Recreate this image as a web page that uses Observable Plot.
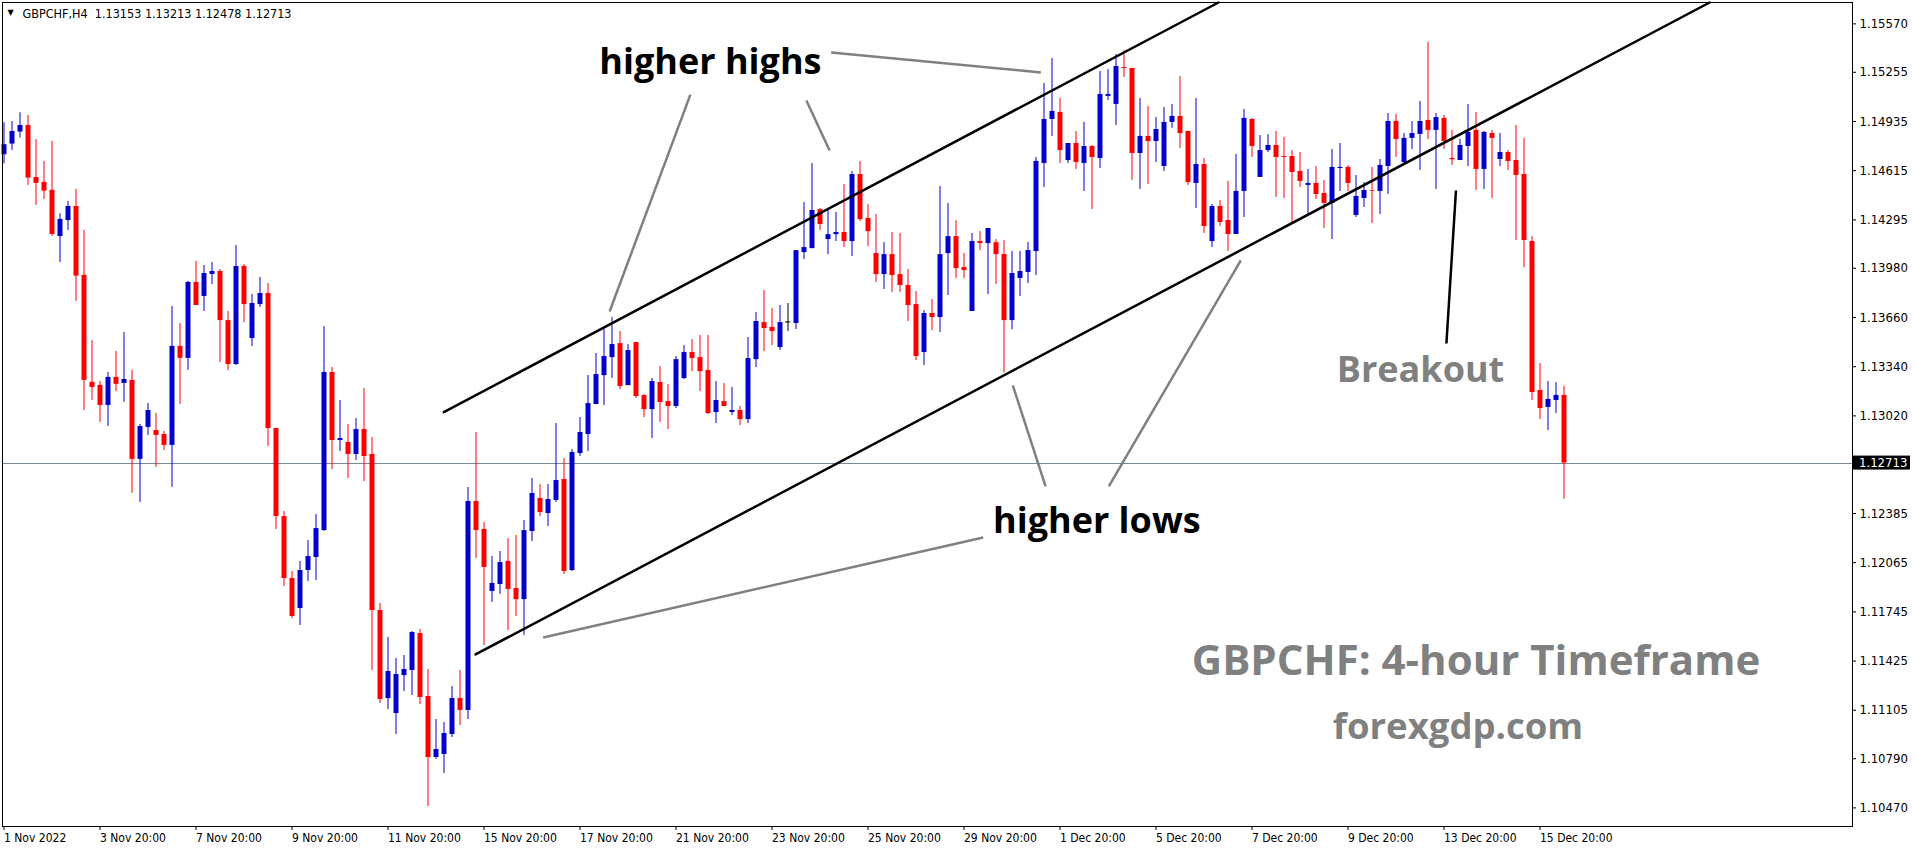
<!DOCTYPE html>
<html>
<head>
<meta charset="utf-8">
<script src="https://cdn.jsdelivr.net/npm/d3@7"></script>
<script src="https://cdn.jsdelivr.net/npm/@observablehq/plot@0.6"></script>
<style>
html,body{margin:0;padding:0;background:#fff;}
svg{display:block;}
</style>
</head>
<body>
<div id="chart"></div>
<script>
// ---------------- data ----------------
const symbol = "GBPCHF";
const timeframe = "H4";

const opens = [
1.14719,1.14788,1.14866,1.14909,1.14571,1.14539,1.14487,1.14187,1.14291,1.14382,
1.13934,1.13238,1.13218,1.13088,1.13270,1.13231,1.13251,1.12737,1.12945,1.12925,
1.12899,1.12828,1.13472,1.13394,1.13888,1.13797,1.13940,1.13959,1.13640,1.13354,
1.13992,1.13523,1.13744,1.13816,1.12938,1.12365,1.11962,1.11767,1.12014,1.12099,
1.12274,1.13302,1.12860,1.12847,1.12769,1.12931,1.12769,1.11754,1.11181,1.11084,
1.11331,1.11364,1.11604,1.11195,1.10798,1.10817,1.10947,1.11182,1.11104,1.12463,
1.12281,1.11878,1.11923,1.12073,1.11897,1.11825,1.12268,1.12483,1.12385,1.12470,
1.12606,1.12014,1.12775,1.12899,1.13094,1.13282,1.13399,1.13490,1.13217,1.13497,
1.13152,1.13061,1.13237,1.13113,1.13081,1.13263,1.13432,1.13399,1.13315,1.13042,
1.13113,1.13042,1.13055,1.12996,1.13386,1.13627,1.13595,1.13464,1.13631,1.13621,
1.14082,1.14108,1.14362,1.14167,1.14199,1.14213,1.14154,1.14590,1.14304,1.14076,
1.13939,1.14069,1.13939,1.13868,1.13744,1.13432,1.13686,1.13660,1.14076,1.14186,
1.13985,1.13699,1.14154,1.14141,1.14147,1.14070,1.13640,1.13914,1.13953,1.14089,
1.14662,1.14948,1.14994,1.14681,1.14792,1.14662,1.14772,1.14694,1.15098,1.15046,
1.15286,1.15280,1.14727,1.14838,1.14805,1.14642,1.14929,1.14968,1.14870,1.14532,
1.14655,1.14154,1.14382,1.14291,1.14200,1.14480,1.14948,1.14571,1.14746,1.14779,
1.14707,1.14707,1.14610,1.14519,1.14532,1.14467,1.14402,1.14629,1.14636,1.14324,
1.14434,1.14486,1.14480,1.14642,1.14935,1.14668,1.14825,1.14851,1.14942,1.14877,
1.14955,1.14694,1.14681,1.14772,1.14877,1.14623,1.14857,1.14688,1.14733,1.14681,
1.14590,1.14155,1.13185,1.13075,1.13120,1.13153
];
const highs = [
1.14927,1.14935,1.14992,1.14974,1.14818,1.14675,1.14805,1.14335,1.14415,1.14493,
1.14226,1.13511,1.13244,1.13303,1.13439,1.13563,1.13316,1.12964,1.13101,1.13036,
1.12919,1.13732,1.13621,1.13895,1.14025,1.13998,1.14018,1.13972,1.13699,1.14128,
1.14005,1.13810,1.13920,1.13881,1.12938,1.12398,1.12008,1.12073,1.12209,1.12378,
1.13601,1.13335,1.13120,1.12964,1.13003,1.13198,1.12879,1.11800,1.11578,1.11442,
1.11461,1.11617,1.11630,1.11370,1.11045,1.11025,1.11260,1.11364,1.12554,1.12912,
1.12326,1.12105,1.12138,1.12222,1.12242,1.12339,1.12613,1.12574,1.12574,1.12970,
1.12743,1.12801,1.13009,1.13283,1.13426,1.13582,1.13660,1.13569,1.13484,1.13497,
1.13159,1.13263,1.13341,1.13224,1.13406,1.13477,1.13517,1.13543,1.13543,1.13243,
1.13230,1.13204,1.13081,1.13530,1.13692,1.13835,1.13718,1.13738,1.13751,1.14095,
1.14408,1.14661,1.14369,1.14362,1.14343,1.14525,1.14609,1.14674,1.14395,1.14330,
1.14147,1.14213,1.14206,1.13972,1.13829,1.13705,1.13777,1.14512,1.14401,1.14291,
1.14076,1.14206,1.14219,1.14239,1.14167,1.14161,1.14089,1.14089,1.14148,1.14701,
1.15182,1.15345,1.15085,1.14792,1.14870,1.14929,1.14779,1.15260,1.15273,1.15371,
1.15397,1.15280,1.15085,1.15033,1.14961,1.15026,1.15046,1.15228,1.14870,1.15085,
1.14694,1.14395,1.14421,1.14545,1.14720,1.15013,1.14955,1.14844,1.14850,1.14870,
1.14831,1.14746,1.14733,1.14623,1.14642,1.14551,1.14753,1.14792,1.14649,1.14584,
1.14538,1.14636,1.14688,1.14987,1.14981,1.14857,1.14935,1.15065,1.15449,1.14987,
1.14974,1.14877,1.14818,1.15046,1.14994,1.14870,1.14877,1.14857,1.14746,1.14909,
1.14825,1.14187,1.13361,1.13244,1.13237,1.13213
];
const lows = [
1.14660,1.14747,1.14827,1.14519,1.14389,1.14428,1.14187,1.14018,1.14226,1.13765,
1.13055,1.13121,1.12977,1.12951,1.13179,1.13108,1.12516,1.12457,1.12893,1.12685,
1.12795,1.12555,1.13095,1.13316,1.13738,1.13699,1.13875,1.13367,1.13315,1.13348,
1.13627,1.13471,1.13725,1.12821,1.12281,1.11910,1.11702,1.11657,1.11943,1.11949,
1.12268,1.12671,1.12788,1.12613,1.12730,1.12593,1.11364,1.11149,1.11110,1.10947,
1.11227,1.11201,1.11142,1.10479,1.10785,1.10694,1.10928,1.11006,1.11045,1.12092,
1.11526,1.11806,1.11858,1.11624,1.11715,1.11591,1.12203,1.12365,1.12300,1.12457,
1.11988,1.12008,1.12756,1.12788,1.13094,1.13087,1.13263,1.13191,1.13217,1.13133,
1.13009,1.12873,1.12977,1.12931,1.13068,1.13256,1.13308,1.13178,1.13029,1.12970,
1.13081,1.13022,1.12957,1.12970,1.13334,1.13438,1.13477,1.13445,1.13569,1.13582,
1.14037,1.14108,1.14226,1.14069,1.14154,1.14115,1.14056,1.14284,1.14121,1.13887,
1.13842,1.13822,1.13822,1.13634,1.13380,1.13347,1.13575,1.13562,1.13803,1.13913,
1.13913,1.13699,1.14095,1.13809,1.13874,1.13300,1.13580,1.13797,1.13881,1.13933,
1.14506,1.14838,1.14662,1.14662,1.14623,1.14480,1.14363,1.14629,1.15072,1.14909,
1.15221,1.14551,1.14493,1.14525,1.14668,1.14610,1.14890,1.14759,1.14519,1.14369,
1.14207,1.14115,1.14252,1.14089,1.14200,1.14311,1.14701,1.14571,1.14733,1.14441,
1.14434,1.14278,1.14506,1.14330,1.14428,1.14239,1.14167,1.14480,1.14480,1.14311,
1.14376,1.14272,1.14330,1.14460,1.14701,1.14649,1.14753,1.14616,1.14818,1.14493,
1.14753,1.14649,1.14681,1.14642,1.14486,1.14493,1.14434,1.14642,1.14616,1.14161,
1.13985,1.13120,1.12997,1.12925,1.13036,1.12478
];
const closes = [
1.14784,1.14870,1.14909,1.14567,1.14532,1.14482,1.14200,1.14298,1.14382,1.13929,
1.13251,1.13205,1.13088,1.13270,1.13225,1.13257,1.12737,1.12951,1.13055,1.12893,
1.12828,1.13472,1.13394,1.13888,1.13738,1.13946,1.13959,1.13640,1.13354,1.13992,
1.13744,1.13751,1.13816,1.12938,1.12365,1.11962,1.11715,1.12014,1.12105,1.12287,
1.13302,1.12860,1.12873,1.12769,1.12931,1.12756,1.11754,1.11175,1.11357,1.11338,
1.11370,1.11611,1.11188,1.10798,1.10850,1.10954,1.11182,1.11104,1.12463,1.12274,
1.12034,1.11930,1.12066,1.11891,1.11825,1.12274,1.12515,1.12391,1.12476,1.12600,
1.12008,1.12782,1.12912,1.13100,1.13289,1.13406,1.13484,1.13211,1.13445,1.13146,
1.13061,1.13243,1.13107,1.13081,1.13386,1.13432,1.13393,1.13308,1.13035,1.13120,
1.13081,1.13055,1.12996,1.13393,1.13634,1.13588,1.13569,1.13627,1.13631,1.14095,
1.14115,1.14356,1.14265,1.14199,1.14213,1.14154,1.14590,1.14297,1.14219,1.13939,
1.14069,1.13933,1.13868,1.13738,1.13406,1.13686,1.13660,1.14069,1.14186,1.13978,
1.13965,1.14154,1.14141,1.14239,1.14069,1.13640,1.13946,1.13959,1.14096,1.14675,
1.14948,1.15000,1.14746,1.14792,1.14668,1.14772,1.14701,1.15111,1.15111,1.15293,
1.15280,1.14727,1.14838,1.14805,1.14883,1.14929,1.14968,1.14857,1.14538,1.14655,
1.14252,1.14382,1.14278,1.14200,1.14480,1.14955,1.14772,1.14746,1.14779,1.14701,
1.14701,1.14603,1.14545,1.14532,1.14460,1.14402,1.14636,1.14636,1.14532,1.14447,
1.14486,1.14482,1.14649,1.14935,1.14818,1.14825,1.14857,1.14935,1.14877,1.14961,
1.14805,1.14686,1.14779,1.14864,1.14623,1.14864,1.14825,1.14733,1.14675,1.14584,
1.14161,1.13172,1.13068,1.13127,1.13153,1.12713
];

// time axis: bar index of each date label
const xTickIndex = [0,12,24,36,48,60,72,84,96,108,120,132,144,156,168,180,192];
const xTickLabels = ["1 Nov 2022","3 Nov 20:00","7 Nov 20:00","9 Nov 20:00","11 Nov 20:00",
  "15 Nov 20:00","17 Nov 20:00","21 Nov 20:00","23 Nov 20:00","25 Nov 20:00","29 Nov 20:00",
  "1 Dec 20:00","5 Dec 20:00","7 Dec 20:00","9 Dec 20:00","13 Dec 20:00","15 Dec 20:00"];
// price axis labels
const yTickValues = [1.15570,1.15255,1.14935,1.14615,1.14295,1.13980,1.13660,1.13340,1.13020,
  1.12385,1.12065,1.11745,1.11425,1.11105,1.10790,1.10470];

// channel trendlines (bar index, price)
const upperChannelIdx = [54.98, 151.8];
const upperChannelPrice = [1.13044, 1.15709];
const lowerChannelIdx = [58.94, 213.2];
const lowerChannelPrice = [1.11468, 1.15709];

// pointer lines from the labels to the swing points: [fromIdx, fromPrice, toIdx, toPrice]
const pointerLines = [
  [85.8, 1.15110, 75.7, 1.13699],
  [100.3, 1.15071, 103.2, 1.14746],
  [103.4, 1.15384, 129.6, 1.15254],
  [122.4, 1.12229, 67.4, 1.11578],
  [130.2, 1.12561, 126.1, 1.13218],
  [138.1, 1.12561, 154.6, 1.14031]
];
const breakoutLine = [[180.3, 1.13491, 181.5, 1.14486]];

// annotation labels
const labelTexts = ["higher highs", "higher lows", "Breakout", "GBPCHF: 4-hour Timeframe", "forexgdp.com"];
const labelIdx = [88.3, 136.6, 177.06, 184.0, 181.75];
const labelPrice = [1.15320, 1.12331, 1.13316, 1.11422, 1.10997];

// ---------------- styles ----------------
const bullColor = "#0000cd", bearColor = "#ff0000", dojiColor = "#000000";
const axisFont = "'DejaVu Sans Condensed', 'DejaVu Sans', sans-serif";
const labelFill = ["#000000", "#000000", "#808080", "#808080", "#808080"];
const labelSize = [36, 36, 36, 42, 36.5];

// ---------------- build ----------------
const fmt = d3.format(".5f");
const candles = opens.map((o, i) => ({i, o, h: highs[i], l: lows[i], c: closes[i]}));
const colorOf = d => d.c > d.o ? bullColor : d.c < d.o ? bearColor : dojiColor;
const last = candles[candles.length - 1];
const header = `${symbol},${timeframe}\u00a0\u00a0${fmt(last.o)} ${fmt(last.h)} ${fmt(last.l)} ${fmt(last.c)}`;

const upper = upperChannelIdx.map((i, k) => ({i, p: upperChannelPrice[k]}));
const lower = lowerChannelIdx.map((i, k) => ({i, p: lowerChannelPrice[k]}));
const labels = labelTexts.map((t, k) => ({t, i: labelIdx[k], p: labelPrice[k], fill: labelFill[k], size: labelSize[k]}));

function priceTag(index, scales, values, dims) {
  const y = scales.y(last.c);
  const x0 = dims.width - dims.marginRight + 1;
  const g = d3.create("svg:g");
  g.append("rect").attr("x", x0).attr("y", y - 7).attr("width", 57).attr("height", 14).attr("fill", "#000");
  g.append("text").attr("x", x0 + 6).attr("y", y).attr("dy", "0.35em")
    .attr("text-anchor", "start")
    .attr("fill", "#fff").attr("font-size", 13).attr("font-family", axisFont).text(fmt(last.c));
  return g.node();
}

const chart = Plot.plot({
  width: 1916,
  height: 850,
  marginLeft: 2,
  marginRight: 64,
  marginTop: 2,
  marginBottom: 24,
  x: {type: "linear", domain: [-0.1875, 231.0625], label: null},
  y: {domain: [1.10349, 1.15709], label: null},
  style: {background: "#fff", color: "#000", fontFamily: axisFont, fontSize: "12px"},
  marks: [
    Plot.ruleY([last.c], {stroke: "#778899", strokeWidth: 1, shapeRendering: "crispEdges"}),
    Plot.ruleX(candles, {x: "i", y1: "l", y2: "h", stroke: colorOf, strokeWidth: 1}),
    Plot.ruleX(candles.filter(d => d.o !== d.c), {x: "i", y1: "o", y2: "c", stroke: colorOf, strokeWidth: 5}),
    Plot.ruleY(candles.filter(d => d.o === d.c), {y: "o", x1: d => d.i - 0.3125, x2: d => d.i + 0.3125, stroke: colorOf, strokeWidth: 1}),
    Plot.line(upper, {x: "i", y: "p", stroke: "#000", strokeWidth: 2.5}),
    Plot.line(lower, {x: "i", y: "p", stroke: "#000", strokeWidth: 2.5}),
    Plot.link(pointerLines, {x1: d => d[0], y1: d => d[1], x2: d => d[2], y2: d => d[3], stroke: "#808080", strokeWidth: 2.5}),
    Plot.link(breakoutLine, {x1: d => d[0], y1: d => d[1], x2: d => d[2], y2: d => d[3], stroke: "#000", strokeWidth: 2.5}),
    Plot.frame({stroke: "#000", strokeWidth: 1}),
    Plot.axisY(yTickValues, {anchor: "right", tickSize: 3, tickPadding: 4, tickFormat: fmt, fontSize: 13, fontFamily: axisFont}),
    Plot.axisX(xTickIndex, {anchor: "bottom", tickSize: 4, tickPadding: 3,
      tickFormat: d => xTickLabels[xTickIndex.indexOf(d)], textAnchor: "start", fontSize: 12, fontFamily: axisFont}),
    Plot.text(labels, {x: "i", y: "p", text: "t", fill: "fill", fontSize: "size",
      fontWeight: "bold", fontFamily: "'Open Sans', 'Noto Sans', sans-serif", textAnchor: "middle", lineAnchor: "middle"}),
    Plot.text(["\u25bc"], {frameAnchor: "top-left", dx: 5, dy: 10, fontSize: 8, textAnchor: "start", lineAnchor: "middle", fontFamily: "'DejaVu Sans', sans-serif"}),
    Plot.text([header], {frameAnchor: "top-left", dx: 20, dy: 11, fontSize: 12.5, textAnchor: "start", lineAnchor: "middle", fontFamily: axisFont}),
    priceTag
  ]
});

document.getElementById("chart").appendChild(chart);
</script>
</body>
</html>
